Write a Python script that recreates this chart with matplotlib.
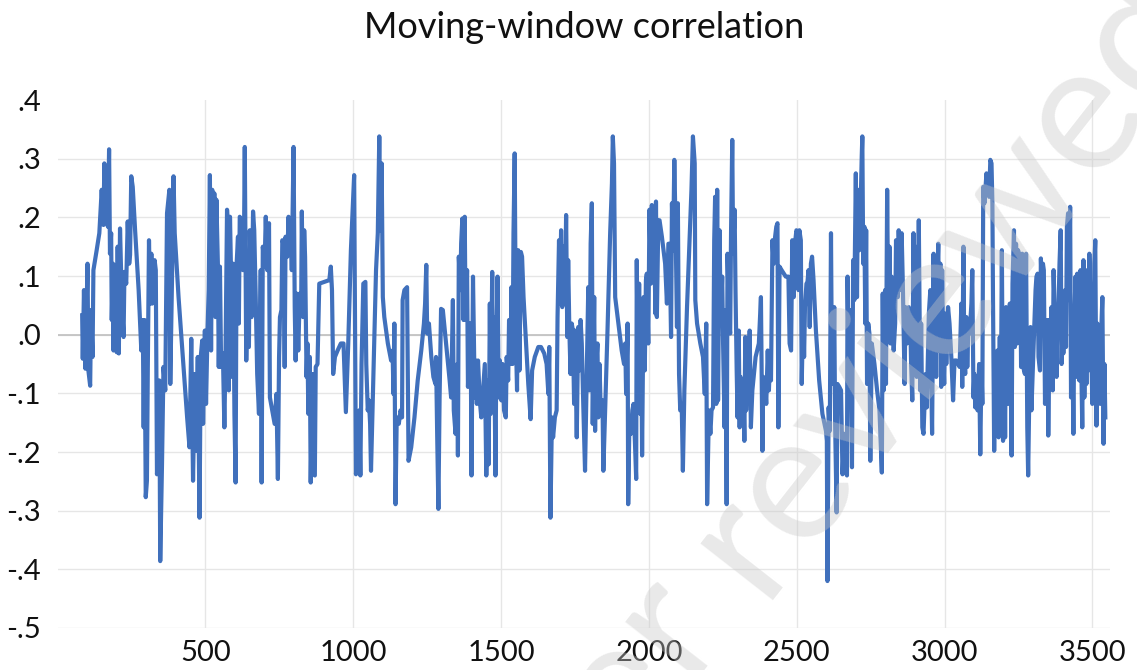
import matplotlib
matplotlib.use("Agg")
import matplotlib.pyplot as plt
from matplotlib.ticker import FuncFormatter

plt.rcParams["font.family"] = ["Lato", "DejaVu Sans"]

TITLE = "Moving-window correlation"
WATERMARK_HEAD = "Preprint not peer "
WATERMARK_TAIL = "reviewed"

# (window position, correlation), grouped by stretch
seg_0 = [
    (83, 0.033), (85, -0.041), (89, 0.076), (94, -0.058), (101, 0.121), (104, -0.061),
    (110, -0.087), (113, 0.042), (118, -0.038), (121, 0.110), (132, 0.144), (141, 0.173),
    (149, 0.247), (155, 0.187), (158, 0.292), (163, 0.190), (166, 0.281), (170, 0.184),
    (174, 0.316), (177, 0.138), (181, 0.173), (183, 0.025), (187, 0.121), (189, -0.027),
    (192, 0.119), (197, 0.076), (200, -0.030), (203, 0.150), (207, -0.032), (211, 0.181),
    (217, 0.059), (223, -0.004), (226, 0.107), (232, 0.087), (237, 0.193), (242, 0.121),
    (245, 0.136), (249, 0.270), (254, 0.252), (262, 0.178), (274, 0.076), (283, -0.027),
    (288, 0.025), (291, -0.158), (294, 0.025), (298, -0.277), (302, -0.249), (305, -0.055),
    (309, 0.161), (313, 0.053), (317, 0.138), (320, 0.053), (328, 0.127), (332, 0.110),
    (336, -0.238), (339, -0.209), (344, -0.078), (347, -0.386), (353, -0.221), (358, -0.055),
]
seg_1 = [
    (364, -0.095), (370, 0.207), (378, 0.247), (381, -0.084), (387, 0.099), (392, 0.270),
    (396, 0.173), (409, 0.064), (426, -0.055), (438, -0.141), (446, -0.192), (452, -0.007),
    (458, -0.249), (464, -0.067), (468, -0.198), (474, -0.038), (480, -0.312), (484, -0.038),
    (489, -0.010), (492, -0.152), (498, 0.007), (502, -0.118), (507, 0.007), (511, 0.076),
    (515, 0.272), (519, -0.027), (523, 0.247), (526, 0.150), (530, 0.241), (534, 0.030),
    (537, 0.230), (542, 0.121), (545, -0.055), (549, 0.116), (553, -0.055), (559, -0.032),
    (564, -0.158), (568, -0.027), (573, 0.213), (577, 0.178), (579, -0.095), (583, 0.201),
    (587, 0.093), (590, -0.072), (594, 0.121), (598, -0.135), (602, -0.252), (605, 0.116),
    (610, 0.167), (613, 0.019), (616, 0.201), (622, 0.195), (627, 0.110), (630, 0.144),
    (633, 0.320), (638, -0.044), (642, 0.070), (647, -0.021), (650, 0.178), (656, 0.030),
    (661, 0.210), (665, 0.178), (670, 0.064), (675, -0.067), (681, -0.135), (687, 0.110),
    (690, -0.252), (694, 0.150), (700, 0.116), (704, 0.201), (709, 0.110), (715, 0.190),
    (718, -0.107),
]
seg_2 = [
    (726, -0.129), (734, -0.152), (740, -0.101), (745, -0.246), (749, -0.038), (752, 0.030),
    (757, 0.042), (760, 0.161), (764, 0.155), (768, -0.055), (771, 0.167), (777, 0.133),
    (781, 0.201), (785, 0.138), (788, 0.195), (792, 0.110), (798, 0.320), (802, 0.047),
    (805, -0.044), (809, 0.070), (814, -0.027), (819, 0.070), (824, 0.064), (826, 0.210),
    (830, 0.030), (834, 0.178), (837, 0.133), (842, -0.072), (845, -0.015), (848, -0.135),
    (853, -0.038), (856, -0.252), (862, -0.067), (865, -0.238), (870, -0.240), (873, -0.055),
    (879, -0.050), (885, 0.087), (902, 0.090), (919, 0.093), (924, 0.116), (928, 0.076),
    (932, -0.067), (938, -0.038), (947, -0.027), (958, -0.015), (967, -0.015), (975, -0.132),
    (983, -0.015), (992, 0.144), (1003, 0.272), (1009, -0.238), (1015, -0.198), (1020, -0.129),
    (1024, -0.240), (1028, -0.050), (1034, 0.087), (1041, 0.090), (1044, -0.050), (1049, -0.129),
    (1053, -0.112), (1057, -0.152), (1060, -0.232), (1066, -0.112), (1077, 0.110), (1083, 0.173),
    (1088, 0.338),
]
seg_3 = [
    (1092, 0.178), (1096, 0.292), (1100, 0.064), (1105, 0.030), (1117, -0.015), (1128, -0.044),
    (1133, -0.027), (1136, -0.101), (1139, 0.019), (1143, -0.289), (1147, -0.141), (1154, -0.152),
    (1160, -0.129), (1165, -0.141), (1167, 0.059), (1173, 0.076), (1182, 0.081), (1187, -0.215),
    (1196, -0.192), (1207, -0.141), (1218, -0.078), (1230, -0.027), (1239, 0.019), (1243, 0.053),
    (1247, 0.119), (1250, 0.002), (1256, 0.019), (1264, -0.038), (1271, -0.072), (1278, -0.084),
    (1280, -0.038), (1284, -0.175), (1288, -0.297), (1292, -0.107), (1297, 0.044), (1303, 0.042),
    (1314, -0.015), (1326, -0.078), (1331, -0.107), (1337, 0.059), (1340, -0.129), (1346, -0.169),
    (1352, -0.050), (1354, -0.206), (1357, 0.133), (1362, 0.076), (1365, 0.156), (1369, 0.198),
    (1373, 0.025), (1377, 0.201), (1380, 0.025), (1385, 0.110), (1388, -0.089), (1394, 0.019),
    (1397, 0.019), (1400, -0.240), (1405, 0.099), (1411, -0.107), (1414, -0.044), (1418, -0.118),
    (1422, -0.044), (1428, -0.112), (1433, -0.141),
]
seg_4 = [
    (1445, -0.050), (1450, -0.240), (1456, -0.078), (1458, -0.221), (1462, 0.053), (1465, -0.135),
    (1470, 0.107), (1473, -0.089), (1476, 0.030), (1481, -0.240), (1484, -0.027), (1488, 0.099),
    (1492, -0.107), (1496, -0.044), (1501, -0.112), (1505, -0.050), (1510, -0.129), (1516, -0.141),
    (1519, -0.038), (1524, -0.078), (1527, 0.025), (1532, -0.050), (1535, 0.081), (1539, -0.050),
    (1542, 0.173), (1546, 0.309), (1550, -0.004), (1554, -0.095), (1558, 0.144), (1562, -0.061),
    (1567, 0.141), (1571, 0.133), (1576, 0.064), (1584, -0.010), (1592, -0.084), (1600, -0.144),
    (1605, -0.061), (1614, -0.038), (1626, -0.021), (1635, -0.021), (1646, -0.032), (1654, -0.050),
    (1660, -0.101), (1663, -0.021), (1667, -0.312), (1672, -0.141), (1676, -0.175), (1682, -0.141),
    (1688, -0.129), (1691, 0.030), (1696, 0.161), (1699, 0.053), (1703, 0.178), (1707, 0.047),
    (1710, 0.150), (1716, 0.053), (1720, 0.204), (1724, -0.004), (1727, 0.127), (1731, 0.007),
    (1735, -0.067), (1739, 0.019), (1743, 0.007), (1747, -0.118), (1750, 0.007), (1756, -0.175),
    (1761, 0.013), (1765, -0.061), (1769, 0.025), (1773, -0.015), (1778, -0.118), (1784, -0.232),
]
seg_5 = [
    (1795, 0.081), (1799, -0.095), (1803, 0.155), (1807, 0.224), (1810, -0.152), (1815, 0.064),
    (1818, -0.164), (1821, -0.061), (1826, -0.015), (1829, -0.141), (1833, -0.050), (1837, -0.129),
    (1843, -0.112), (1846, -0.232), (1852, -0.129), (1860, 0.007), (1869, 0.173), (1875, 0.258),
    (1878, 0.338), (1882, 0.292), (1886, 0.064), (1897, 0.019), (1908, -0.027), (1916, -0.050),
    (1920, -0.015), (1923, -0.101), (1928, 0.019), (1930, -0.289), (1934, -0.152), (1939, -0.169),
    (1944, -0.129), (1948, -0.118), (1953, -0.186), (1957, -0.246), (1959, 0.127), (1963, -0.101),
    (1967, 0.087), (1971, -0.135), (1974, 0.019), (1977, -0.206), (1982, 0.064), (1986, -0.061),
    (1990, 0.093), (1993, 0.104), (1998, -0.015), (2002, 0.213), (2007, 0.087), (2010, 0.221),
    (2014, 0.093), (2018, 0.173), (2022, 0.036), (2024, 0.227), (2027, 0.030), (2032, 0.195),
    (2036, 0.195), (2044, 0.167), (2055, 0.121), (2061, 0.053), (2066, 0.155), (2070, 0.155),
    (2075, -0.004), (2078, 0.224), (2082, 0.144), (2086, 0.298), (2091, 0.161), (2095, 0.013),
    (2098, 0.224), (2102, -0.067), (2106, -0.129), (2111, -0.118), (2115, -0.232), (2120, -0.095),
    (2129, 0.047), (2138, 0.167), (2144, 0.247), (2149, 0.338),
]
seg_6 = [
    (2155, 0.292), (2157, 0.059), (2163, 0.019), (2174, -0.015), (2183, -0.038), (2189, -0.101),
    (2194, 0.019), (2197, -0.289), (2203, -0.129), (2208, -0.169), (2212, -0.129), (2217, -0.124),
    (2221, 0.161), (2224, 0.235), (2228, -0.118), (2231, 0.247), (2234, -0.112), (2239, 0.178),
    (2243, 0.019), (2248, 0.099), (2251, -0.015), (2256, -0.158), (2259, 0.042), (2263, -0.289),
    (2266, 0.138), (2271, 0.025), (2275, 0.002), (2278, 0.178), (2282, 0.332), (2285, 0.138),
    (2290, 0.213), (2293, 0.076), (2297, -0.061), (2300, -0.141), (2304, 0.007), (2307, -0.158),
    (2310, -0.072), (2316, -0.141), (2319, -0.078), (2323, -0.181), (2326, -0.004), (2329, -0.129),
    (2333, -0.050), (2336, -0.095), (2341, 0.007), (2345, -0.158), (2350, -0.095), (2361, -0.038),
    (2372, -0.015), (2379, 0.064), (2384, -0.198), (2387, -0.072), (2393, -0.084), (2397, -0.118),
    (2402, -0.027), (2406, -0.095), (2410, -0.038), (2413, -0.078), (2418, 0.161), (2422, 0.121),
    (2427, 0.167), (2431, 0.184), (2435, 0.190), (2438, -0.158), (2442, 0.116), (2449, 0.110),
    (2463, 0.099), (2472, 0.099), (2476, -0.015), (2481, -0.027), (2485, 0.161), (2490, 0.064),
    (2493, 0.150), (2499, 0.178),
]
seg_7 = [
    (2503, 0.173), (2506, 0.076), (2509, 0.178), (2514, 0.161), (2517, -0.084), (2522, 0.047),
    (2525, -0.038), (2528, 0.047), (2533, 0.087), (2536, 0.087), (2540, 0.110), (2544, 0.013),
    (2548, 0.121), (2552, 0.133), (2557, 0.093), (2565, 0.007), (2576, -0.078), (2587, -0.135),
    (2599, -0.164), (2602, -0.181), (2604, -0.420), (2608, -0.124), (2612, -0.164), (2616, 0.173),
    (2619, -0.055), (2624, -0.084), (2627, 0.047), (2630, -0.152), (2635, -0.303), (2638, -0.084),
    (2644, -0.089), (2650, -0.095), (2655, -0.238), (2661, -0.169), (2666, -0.181), (2670, -0.240),
    (2672, 0.099), (2676, -0.055), (2681, 0.042), (2687, -0.226), (2691, 0.127), (2695, 0.059),
    (2700, 0.275), (2704, 0.064), (2707, 0.247), (2712, 0.144), (2715, 0.190), (2720, 0.304),
    (2722, 0.338), (2725, 0.121), (2729, 0.184), (2732, 0.019), (2735, 0.178), (2738, -0.084),
    (2742, 0.019), (2746, 0.002), (2749, -0.215), (2754, -0.015), (2763, -0.050), (2772, -0.095),
    (2780, -0.129), (2788, -0.235), (2791, 0.070), (2794, -0.095), (2799, 0.076), (2802, -0.084),
    (2806, 0.247), (2810, 0.007), (2814, 0.150), (2817, -0.015), (2821, 0.099), (2825, 0.030),
    (2828, -0.027), (2833, 0.019), (2836, 0.161), (2842, 0.064), (2845, 0.178), (2850, 0.076),
    (2855, 0.173), (2859, 0.087),
]
seg_8 = [
    (2865, -0.084), (2868, 0.047), (2873, -0.015), (2876, 0.042), (2879, 0.047), (2884, 0.030),
    (2887, -0.050), (2891, -0.112), (2895, 0.173), (2899, 0.036), (2902, 0.150), (2906, -0.072),
    (2910, 0.047), (2913, 0.195), (2918, -0.095), (2921, 0.019), (2925, -0.158), (2929, -0.169),
    (2932, -0.124), (2936, -0.067), (2940, -0.124), (2944, -0.032), (2947, 0.036), (2952, 0.076),
    (2955, -0.072), (2958, -0.169), (2963, 0.138), (2966, -0.050), (2970, 0.019), (2972, -0.072),
    (2975, 0.087), (2979, 0.155), (2982, -0.027), (2986, 0.121), (2989, -0.089), (2992, 0.110),
    (2996, -0.038), (2999, -0.084), (3003, 0.036), (3006, -0.050), (3012, 0.047), (3017, 0.019),
    (3023, -0.038), (3029, -0.112), (3034, -0.044), (3040, -0.044), (3046, -0.050), (3051, -0.055),
    (3057, 0.053), (3060, -0.089), (3064, 0.150), (3067, -0.038), (3070, -0.067), (3074, 0.030),
    (3077, -0.055), (3081, 0.019), (3085, 0.002), (3091, 0.053), (3094, 0.110), (3098, -0.107),
    (3101, -0.067), (3104, -0.124), (3108, -0.101), (3112, -0.129), (3117, -0.050), (3121, -0.204),
    (3125, -0.055), (3128, -0.118), (3131, 0.252), (3135, 0.224), (3138, 0.247), (3142, 0.275),
    (3146, 0.247), (3151, 0.235), (3155, 0.298), (3159, 0.292), (3162, 0.224), (3164, 0.064),
    (3168, -0.198), (3171, -0.067), (3174, -0.141), (3179, -0.027), (3183, -0.175), (3187, -0.004),
    (3190, -0.169), (3194, 0.144), (3198, -0.181), (3202, 0.007), (3205, -0.175), (3208, 0.047),
    (3212, -0.084),
]
seg_9 = [
    (3215, -0.118), (3221, 0.053), (3227, -0.206), (3230, 0.087), (3235, 0.178), (3238, -0.021),
    (3242, 0.155), (3246, -0.015), (3249, 0.144), (3253, -0.004), (3256, 0.138), (3259, -0.055),
    (3263, 0.138), (3266, -0.055), (3272, -0.067), (3276, 0.138), (3280, -0.158), (3283, -0.240),
    (3287, -0.095), (3291, 0.013), (3294, -0.129), (3300, -0.038), (3304, 0.019), (3308, 0.076),
    (3311, 0.099), (3315, 0.104), (3318, -0.038), (3323, -0.061), (3326, 0.130), (3330, 0.064),
    (3333, 0.121), (3336, 0.110), (3340, -0.118), (3343, -0.015), (3348, 0.025), (3351, -0.172),
    (3356, 0.025), (3359, -0.072), (3362, 0.047), (3366, -0.095), (3369, 0.110), (3372, 0.053),
    (3376, 0.007), (3379, -0.072), (3383, 0.036), (3386, 0.053), (3389, 0.121), (3393, 0.178),
    (3396, -0.050), (3400, 0.019), (3402, -0.032), (3408, 0.076), (3411, -0.021), (3414, 0.184),
    (3418, 0.207), (3421, 0.059), (3425, 0.218), (3428, -0.107), (3431, 0.047), (3436, -0.169),
    (3439, 0.019), (3443, 0.099), (3446, -0.072), (3449, 0.104), (3453, 0.019), (3456, -0.078),
    (3460, 0.110), (3463, -0.061), (3466, -0.158), (3470, 0.127), (3473, -0.107), (3477, 0.076),
    (3480, -0.084), (3483, 0.110), (3487, -0.061), (3490, 0.138), (3494, 0.047), (3497, -0.038),
    (3500, -0.118), (3504, -0.015), (3507, 0.121), (3510, 0.161), (3514, -0.155), (3517, 0.019),
    (3521, 0.007), (3524, -0.055), (3527, -0.118), (3531, 0.019), (3534, 0.064), (3538, -0.186),
    (3541, -0.050), (3544, -0.141),
]

x_ticks = [500, 1000, 1500, 2000, 2500, 3000, 3500]
y_ticks = [-0.5, -0.4, -0.3, -0.2, -0.1, 0.0, 0.1, 0.2, 0.3, 0.4]


def corr_label(v, _pos):
    s = f"{v:.1f}"
    return s.replace("0.", ".")


def main():
    points = seg_0 + seg_1 + seg_2 + seg_3 + seg_4 + seg_5 + seg_6 + seg_7 + seg_8 + seg_9
    xs = [p[0] for p in points]
    ys = [p[1] for p in points]

    fig = plt.figure(figsize=(11.37, 6.70), dpi=100)
    ax = fig.add_axes([0.0507, 0.0627, 0.9256, 0.788])

    ax.plot(xs, ys, color="#4070BC", lw=3.0, solid_joinstyle="round", zorder=3)

    ax.set_xlim(0, 3560)
    ax.set_ylim(-0.5, 0.4)
    ax.set_xticks(x_ticks)
    ax.set_yticks(y_ticks)
    ax.yaxis.set_major_formatter(FuncFormatter(corr_label))
    ax.tick_params(length=0, labelsize=21, colors="#111111")
    ax.tick_params(axis="x", pad=9)
    ax.tick_params(axis="y", pad=12)

    ax.grid(True, color="#e6e6e6", lw=1.0, zorder=0)
    ax.set_axisbelow(True)
    ax.yaxis.get_gridlines()[-1].set_visible(False)
    ax.axhline(0, color="#bfbfbf", lw=1.2, zorder=1)
    for s in ax.spines.values():
        s.set_visible(False)

    fig.text(0.5137, 1 - 27 / 670, TITLE, ha="center", va="center",
             fontsize=26, color="#111111")

    # diagonal watermark laid over the chart
    wm = dict(fontsize=130, color="#c8c8c8", alpha=0.4, rotation=52,
              rotation_mode="anchor", va="baseline", zorder=10)
    ax_pt = (760 / 1137, 1 - 600 / 670)
    fig.text(*ax_pt, WATERMARK_TAIL, ha="left", **wm)
    fig.text(*ax_pt, WATERMARK_HEAD, ha="right", **wm)

    fig.savefig("out.png", dpi=100)
    return fig


if __name__ == "__main__":
    main()
